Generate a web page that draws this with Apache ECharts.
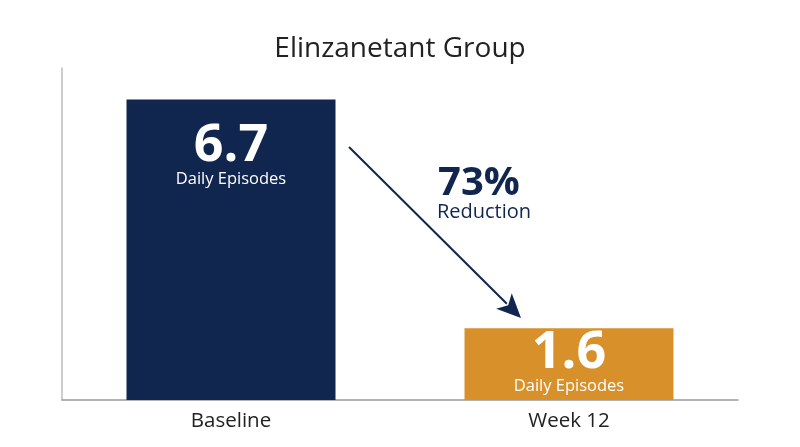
<!DOCTYPE html>
<html><head><meta charset="utf-8">
<script src="https://cdn.jsdelivr.net/npm/echarts@6/dist/echarts.min.js"></script>
<style>html,body{margin:0;padding:0;background:#fff}#c{width:800px;height:447px}</style>
</head><body><div id="c"></div>
<script>
const categories = ['Baseline', 'Week 12'];
const values = [6.7, 1.6];
const unitLabel = 'Daily Episodes';
const reductionText = '73%';
const reductionLabel = 'Reduction';
const titleText = 'Elinzanetant Group';

const FONT = '"Open Sans", "Noto Sans", sans-serif';
const colors = ['#10264f', '#d8912a'];

const chart = echarts.init(document.getElementById('c'), null, {renderer: 'canvas'});
const option = {
  animation: false,
  backgroundColor: '#fff',
  title: {
    text: titleText, left: 'center', top: 30,
    textStyle: {fontFamily: FONT, fontSize: 28, fontWeight: 'normal', color: '#222'}
  },
  grid: {left: 62, right: 62, top: 68, bottom: 47},
  xAxis: {
    type: 'category', data: categories,
    axisLine: {show: true, onZero: false, lineStyle: {color: '#9a9a9a', width: 1.5}},
    axisTick: {show: false},
    axisLabel: {fontFamily: FONT, fontSize: 20.5, color: '#222', margin: 11}
  },
  yAxis: {
    type: 'value', min: 0, max: 7.4,
    axisLine: {show: true, lineStyle: {color: '#bdbdbd', width: 1.5}},
    axisTick: {show: false}, axisLabel: {show: false}, splitLine: {show: false}
  },
  series: [{
    type: 'bar', barWidth: 209,
    data: values.map((v, i) => ({
      value: v,
      itemStyle: {color: colors[i]},
      label: {distance: i === 0 ? 25 : 3}
    })),
    label: {
      show: true, position: 'insideTop',
      formatter: p => '{v|' + p.value + '}\n{u|' + unitLabel + '}',
      rich: {
        v: {fontFamily: FONT, fontSize: 52, fontWeight: 'bold', color: '#fff', lineHeight: 44, align: 'center'},
        u: {fontFamily: FONT, fontSize: 16.5, color: '#fff', lineHeight: 22, align: 'center'}
      }
    }
  }]
};
chart.setOption(option);

// Arrow annotation between the bars, placed through the axes' own scales
const p0 = chart.convertToPixel({seriesIndex: 0}, [0, 5.64]);
const p1 = chart.convertToPixel({seriesIndex: 0}, [1, 1.83]);
const x0 = p0[0] + 118, y0 = p0[1];
const x1 = p1[0] - 48, y1 = p1[1];
const ang = Math.atan2(y1 - y0, x1 - x0);
const hl = 24, hw = 11;
const bx = x1 - hl * Math.cos(ang), by = y1 - hl * Math.sin(ang);
const nx = -Math.sin(ang), ny = Math.cos(ang);
const midX = (p0[0] + p1[0]) / 2;
chart.setOption({
  graphic: [
    {type: 'line', shape: {x1: x0, y1: y0, x2: bx + 4 * Math.cos(ang), y2: by + 4 * Math.sin(ang)},
     style: {stroke: colors[0], lineWidth: 2}},
    {type: 'polygon', shape: {points: [[x1, y1], [bx + nx * hw, by + ny * hw], [bx + 6 * Math.cos(ang), by + 6 * Math.sin(ang)], [bx - nx * hw, by - ny * hw]]},
     style: {fill: colors[0]}},
    {type: 'text', x: midX + 79, y: 184,
     style: {text: reductionText, fontFamily: FONT, fontSize: 40, fontWeight: 'bold', fill: colors[0], align: 'center', verticalAlign: 'middle'}},
    {type: 'text', x: midX + 84, y: 212,
     style: {text: reductionLabel, fontFamily: FONT, fontSize: 20, fill: colors[0], align: 'center', verticalAlign: 'middle'}}
  ]
});
</script></body></html>
